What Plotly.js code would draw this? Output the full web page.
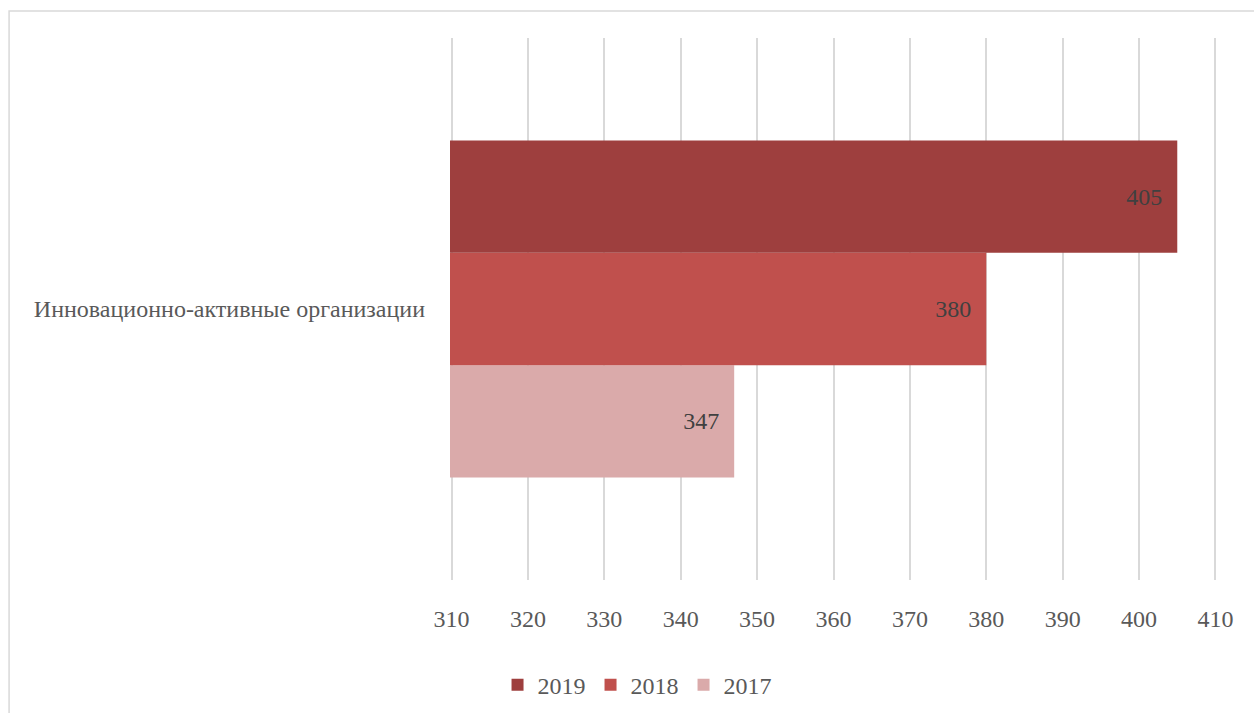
<!DOCTYPE html>
<html>
<head>
<meta charset="utf-8">
<script src="https://cdn.plot.ly/plotly-3.0.1.min.js"></script>
<style>html,body{margin:0;padding:0;background:#fff;}#chart{width:1254px;height:713px;}</style>
</head>
<body>
<div id="chart"></div>
<script>
const categories = ["Инновационно-активные организации"];
const series = ["2017", "2018", "2019"];
const values2017 = [347];
const values2018 = [380];
const values2019 = [405];
const colors = {"2017": "#DAAAAA", "2018": "#C0504D", "2019": "#9E3F3E"};
const valuesBySeries = {"2017": values2017, "2018": values2018, "2019": values2019};
const xTicks = [310, 320, 330, 340, 350, 360, 370, 380, 390, 400, 410];

const font = "'Times New Roman', 'Liberation Serif', serif";
const traces = series.map(s => ({
  type: "bar",
  orientation: "h",
  name: s,
  y: categories,
  x: valuesBySeries[s],
  marker: {color: colors[s]},
  texttemplate: "%{x}\u2002",
  textposition: "inside",
  insidetextanchor: "end",
  textfont: {family: font, size: 24, color: "#404040"},
  hoverinfo: "x+name"
}));

const layout = {
  width: 1254, height: 713,
  margin: {l: 449.5, r: 36.5, t: 38, b: 133},
  paper_bgcolor: "#fff", plot_bgcolor: "#fff",
  barmode: "group",
  bargap: 0.378,
  bargroupgap: 0,
  font: {family: font, size: 24, color: "#595959"},
  xaxis: {
    range: [309.8, 410.2],
    tickvals: xTicks,
    ticktext: xTicks.map(String),
    showgrid: true, gridcolor: "#D9D9D9", gridwidth: 2,
    zeroline: false, showline: false, ticks: "",
    ticklabelstandoff: 22,
    tickfont: {family: font, size: 24, color: "#595959"}
  },
  yaxis: {
    showgrid: false, zeroline: false, showline: false, ticks: "",
    ticklabelstandoff: 24,
    tickfont: {family: font, size: 24, color: "#595959"}
  },
  showlegend: true,
  legend: {
    orientation: "h", traceorder: "reversed",
    xref: "container", yref: "container",
    x: 0.508, xanchor: "center", y: 0.039, yanchor: "middle",
    font: {family: font, size: 24, color: "#595959"},
    itemwidth: 30
  },
  shapes: [{
    type: "rect", xref: "paper", yref: "paper",
    x0: (8 - 449.5) / 768, x1: 2, y0: -1, y1: (580 - 11) / 542,
    line: {color: "#D9D9D9", width: 1.5}, fillcolor: "rgba(0,0,0,0)", layer: "below"
  }]
};

Plotly.newPlot("chart", traces, layout, {displayModeBar: false, staticPlot: true});
</script>
</body>
</html>
